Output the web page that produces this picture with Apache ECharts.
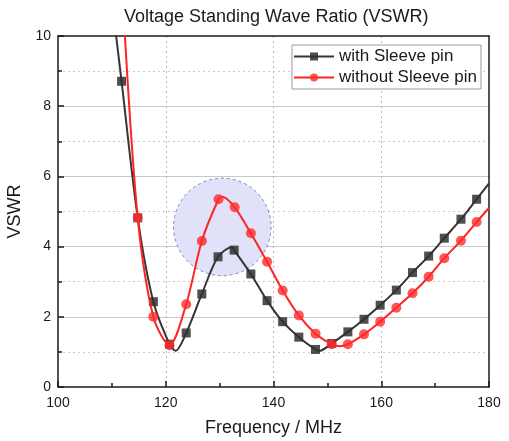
<!DOCTYPE html>
<html>
<head>
<meta charset="utf-8">
<script src="https://cdn.jsdelivr.net/npm/echarts@6/dist/echarts.min.js"></script>
<style>
html,body{margin:0;padding:0;background:#fff;}
#chart{width:509px;height:441px;}
</style>
</head>
<body>
<div id="chart"></div>
<script>
// Frequency (MHz) and VSWR; marked = shown with a symbol
var freqWith  = [110.4, 111.8, 114.8, 117.7, 120.7, 121.8, 123.8, 126.7, 129.7, 132.3, 132.7, 135.8, 138.8, 141.7, 144.7, 147.8, 148.5, 150.8, 153.8, 156.8, 159.8, 162.8, 165.8, 168.8, 171.7, 174.8, 177.7, 180.0];
var vswrWith  = [10.5, 8.71, 4.82, 2.43, 1.22, 1.03, 1.54, 2.65, 3.71, 3.98, 3.90, 3.22, 2.46, 1.86, 1.42, 1.07, 1.03, 1.24, 1.57, 1.93, 2.33, 2.76, 3.26, 3.73, 4.24, 4.78, 5.35, 5.80];
var markWith  = [0, 1, 1, 1, 1, 0, 1, 1, 1, 0, 1, 1, 1, 1, 1, 1, 0, 1, 1, 1, 1, 1, 1, 1, 1, 1, 1, 0];

var freqWithout = [112.2, 114.8, 117.7, 120.7, 123.8, 126.7, 129.8, 130.5, 132.8, 135.8, 138.8, 141.7, 144.7, 147.8, 150.8, 152.2, 153.8, 156.8, 159.8, 162.8, 165.8, 168.8, 171.7, 174.8, 177.7, 180.0];
var vswrWithout = [10.6, 4.82, 2.00, 1.19, 2.36, 4.16, 5.35, 5.42, 5.12, 4.38, 3.57, 2.75, 2.04, 1.52, 1.22, 1.16, 1.22, 1.50, 1.86, 2.26, 2.67, 3.14, 3.67, 4.17, 4.70, 5.10];
var markWithout = [0, 1, 1, 1, 1, 1, 1, 0, 1, 1, 1, 1, 1, 1, 1, 0, 1, 1, 1, 1, 1, 1, 1, 1, 1, 0];

// highlighted region: centre frequency, centre VSWR, radius in MHz
var highlight = [[130.5, 4.56, 9.05]];

var seriesNames = ['with Sleeve pin', 'without Sleeve pin'];
var xTicks = [100, 120, 140, 160, 180];
var yTicks = [0, 2, 4, 6, 8, 10];

function buildData(fx, vy, mk) {
  return fx.map(function (f, i) {
    var item = { value: [f, vy[i]] };
    if (!mk[i]) item.symbol = 'none';
    return item;
  });
}

var FONT = '"Liberation Sans", Arial, sans-serif';
var INK = '#1a1a1a';
var chart = echarts.init(document.getElementById('chart'), null, { renderer: 'canvas' });

var frameAxis = {
  axisLine: { show: true, onZero: false, lineStyle: { color: INK, width: 1.5 } },
  axisTick: { show: false },
  axisLabel: { show: false },
  splitLine: { show: false }
};

chart.setOption({
  animation: false,
  backgroundColor: '#ffffff',
  title: {
    text: 'Voltage Standing Wave Ratio (VSWR)',
    left: 119,
    top: 3,
    textStyle: { fontFamily: FONT, fontSize: 18, fontWeight: 'normal', color: INK }
  },
  legend: {
    data: seriesNames,
    orient: 'vertical',
    left: 292,
    top: 45,
    itemWidth: 40,
    itemHeight: 10,
    itemGap: 4,
    padding: [3, 4, 3, 1],
    backgroundColor: '#ffffff',
    borderColor: '#9a9a9a',
    borderWidth: 1,
    borderRadius: 0,
    z: 10,
    textStyle: { fontFamily: FONT, fontSize: 17, lineHeight: 17, color: INK }
  },
  grid: { left: 58, right: 20, top: 36, bottom: 54, outerBoundsMode: 'none', containLabel: false },
  xAxis: [{
    type: 'value',
    min: xTicks[0], max: xTicks[xTicks.length - 1], interval: 20,
    name: 'Frequency / MHz',
    nameLocation: 'middle',
    nameGap: 32,
    nameTextStyle: { fontFamily: FONT, fontSize: 18, color: INK },
    axisLine: { show: true, onZero: false, lineStyle: { color: INK, width: 1.5 } },
    axisTick: { show: true, inside: true, length: 6, lineStyle: { color: INK, width: 1.5 } },
    minorTick: { show: true, splitNumber: 2, length: 4, lineStyle: { color: INK, width: 1.5 } },
    axisLabel: { fontFamily: FONT, fontSize: 14, color: INK, margin: 9 },
    splitLine: { show: true, showMinLine: false, showMaxLine: false, lineStyle: { color: '#b8b8b8', width: 1, type: [2, 3] } },
    minorSplitLine: { show: false }
  }, Object.assign({ type: 'value', position: 'top', min: xTicks[0], max: xTicks[xTicks.length - 1] }, frameAxis)],
  yAxis: [{
    type: 'value',
    min: yTicks[0], max: yTicks[yTicks.length - 1], interval: 2,
    name: 'VSWR',
    nameLocation: 'middle',
    nameGap: 24,
    nameTextStyle: { fontFamily: FONT, fontSize: 18, color: INK },
    axisLine: { show: true, onZero: false, lineStyle: { color: INK, width: 1.5 } },
    axisTick: { show: true, inside: true, length: 6, lineStyle: { color: INK, width: 1.5 } },
    minorTick: { show: true, splitNumber: 2, length: 4, lineStyle: { color: INK, width: 1.5 } },
    axisLabel: { fontFamily: FONT, fontSize: 14, color: INK, margin: 7 },
    splitLine: { show: true, showMinLine: false, showMaxLine: false, lineStyle: { color: '#c8c8c8', width: 1, type: 'solid' } },
    minorSplitLine: { show: true, lineStyle: { color: '#c8c8c8', width: 1, type: [2, 3] } }
  }, Object.assign({ type: 'value', position: 'right', min: yTicks[0], max: yTicks[yTicks.length - 1] }, frameAxis)],
  series: [
    {
      type: 'custom',
      name: 'highlight',
      z: 1,
      silent: true,
      data: highlight,
      renderItem: function (params, api) {
        var c = api.coord([api.value(0), api.value(1)]);
        var r = api.size([api.value(2), 0])[0];
        return {
          type: 'circle',
          shape: { cx: c[0], cy: c[1], r: r },
          style: { fill: '#e1e1f9', stroke: '#6f8dbb', lineWidth: 1, lineDash: [3, 3] }
        };
      }
    },
    {
      type: 'line',
      name: seriesNames[0],
      z: 3,
      smooth: 0.3,
      clip: true,
      symbol: 'rect',
      symbolSize: 9,
      data: buildData(freqWith, vswrWith, markWith),
      lineStyle: { color: '#353535', width: 2 },
      itemStyle: { color: '#303030', opacity: 0.85 }
    },
    {
      type: 'line',
      name: seriesNames[1],
      z: 4,
      smooth: 0.3,
      clip: true,
      symbol: 'circle',
      symbolSize: 10,
      data: buildData(freqWithout, vswrWithout, markWithout),
      lineStyle: { color: '#ff2323', width: 2 },
      itemStyle: { color: '#ff2a2a', opacity: 0.8 }
    }
  ]
});
</script>
</body>
</html>
